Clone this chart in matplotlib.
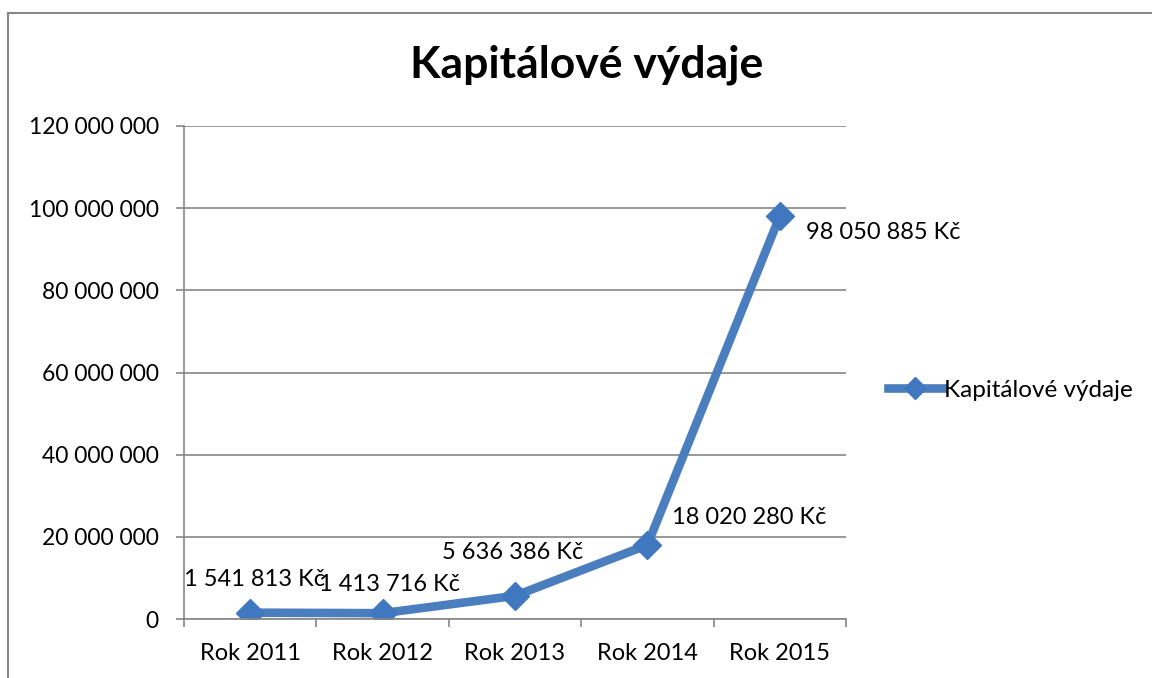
import matplotlib.pyplot as plt
import matplotlib.ticker as mticker
from matplotlib.lines import Line2D

plt.rcParams['font.family'] = ['Lato', 'DejaVu Sans']

# data
years = ['Rok 2011', 'Rok 2012', 'Rok 2013', 'Rok 2014', 'Rok 2015']
vydaje = [1541813, 1413716, 5636386, 18020280, 98050885]
# label offsets (points)
label_dx = [3, 5, -2, 18, 19]
label_dy = [24, 21, 31, 20, -12]
label_ha = ['center', 'center', 'center', 'left', 'left']

line_col = '#4A7EBF'
grid_col = '#868686'


def fmt_space(v, pos=None):
    return format(int(v), ',').replace(',', ' ')


fig = plt.figure(figsize=(11.52, 6.78), dpi=100)
ax = fig.add_axes([184 / 1152, 59 / 678, 662 / 1152, 493 / 678])

x = list(range(len(years)))
ax.plot(x, vydaje, color=line_col, lw=6.2, marker='D', markersize=14,
        markerfacecolor='#3F78BE', markeredgecolor='#3F78BE',
        label='Kapitálové výdaje', solid_joinstyle='miter')

for i, v in enumerate(vydaje):
    ax.annotate(fmt_space(v) + ' Kč', (x[i], v), xytext=(label_dx[i], label_dy[i]),
                textcoords='offset points', ha=label_ha[i], va='center', fontsize=17)

ax.set_xlim(-0.5, 4.5)
ax.set_ylim(0, 120000000)
ax.set_yticks(range(0, 120000001, 20000000))
ax.yaxis.set_major_formatter(mticker.FuncFormatter(fmt_space))
ax.set_xticks(x)
ax.set_xticklabels(years)
ax.set_xticks([i - 0.5 for i in range(len(years) + 1)], minor=True)
ax.tick_params(axis='x', which='major', length=0, labelsize=17, pad=17)
ax.tick_params(axis='x', which='minor', length=6, color=grid_col, width=1.2)
ax.tick_params(axis='y', length=6, color=grid_col, width=1.2, labelsize=16.5, pad=12)

ax.grid(axis='y', color=grid_col, lw=1.2)
ax.set_axisbelow(True)
for s in ['top', 'right']:
    ax.spines[s].set_visible(False)
for s in ['left', 'bottom']:
    ax.spines[s].set_color(grid_col)
    ax.spines[s].set_linewidth(1.2)

fig.text(587 / 1152, 1 - 65 / 678, 'Kapitálové výdaje', ha='center', va='center',
         fontsize=32, fontweight='bold')

fig.legend(loc='center left', bbox_to_anchor=(876 / 1152, 1 - 390 / 678), frameon=False,
           fontsize=17.5, handlelength=2.2, handletextpad=0.1, borderpad=0,
           markerscale=0.8)

# outer chart border (only top and left visible)
bx, by = 8 / 1152, 1 - 13 / 678
fig.add_artist(Line2D([bx, 1.01], [by, by], transform=fig.transFigure, color=grid_col, lw=1.5))
fig.add_artist(Line2D([bx, bx], [-0.01, by], transform=fig.transFigure, color=grid_col, lw=1.5))

fig.savefig('out.png', dpi=100)
